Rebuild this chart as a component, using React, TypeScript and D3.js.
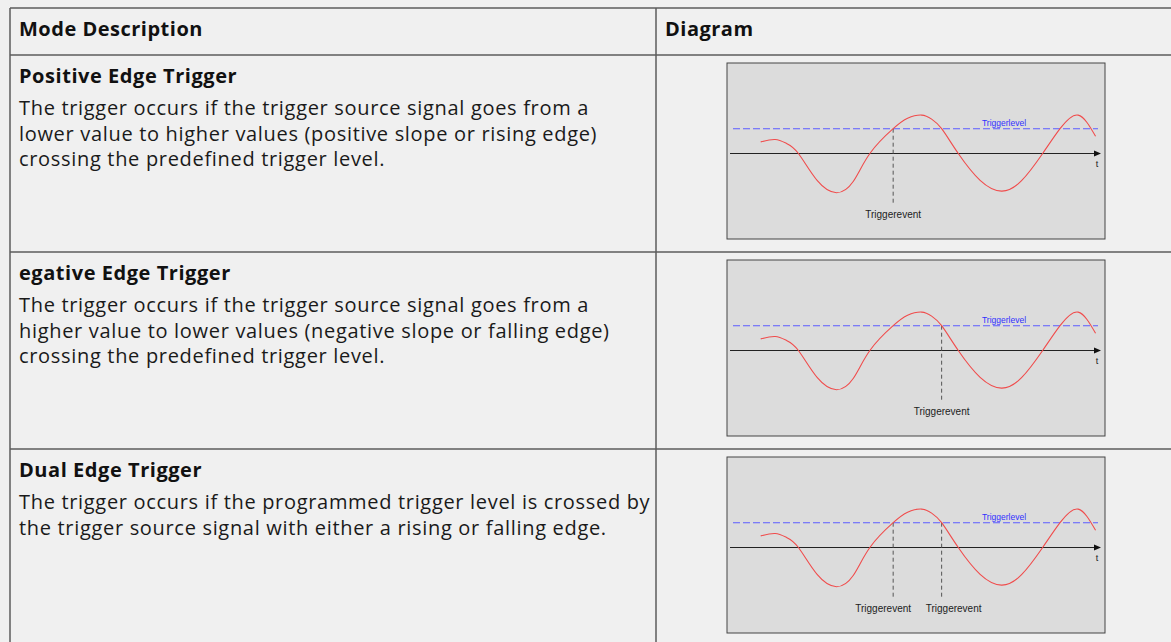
import { useRef, useEffect } from "react";
import * as d3 from "d3";

// table content
const headers = ["Mode Description", "Diagram"];
const modeTitles = ["Positive Edge Trigger", "egative Edge Trigger", "Dual Edge Trigger"];
const modeDescriptions = [
  [
    "The trigger occurs if the trigger source signal goes from a",
    "lower value to higher values (positive slope or rising edge)",
    "crossing the predefined trigger level.",
  ],
  [
    "The trigger occurs if the trigger source signal goes from a",
    "higher value to lower values (negative slope or falling edge)",
    "crossing the predefined trigger level.",
  ],
  [
    "The trigger occurs if the programmed trigger level is crossed by",
    "the trigger source signal with either a rising or falling edge.",
  ],
];

// signal (time 0..10, amplitude in arbitrary units)
const waveTime = [0.83, 1.22, 1.53, 1.85, 2.36, 2.88, 3.33, 3.78, 4.41, 4.8, 5.18, 5.45, 5.72, 6.17, 6.76, 7.34, 7.88, 8.45, 8.92, 9.41, 9.88];
const waveValue = [0.29, 0.35, 0.25, 0, -0.68, -0.98, -0.7, 0, 0.62, 0.88, 0.96, 0.86, 0.62, 0, -0.67, -0.94, -0.68, 0, 0.62, 0.96, 0.43];
const triggerLevel = 0.62;
const triggerEvents = [[4.41], [5.72], [4.41, 5.72]];
const levelLabel = "Triggerlevel";
const eventLabel = "Triggerevent";
const axisLabel = "t";

const W = 1171;
const H = 642;
const tableLeft = 10;
const tableTop = 8;
const colDivider = 656;
const headerH = 47;
const rowH = 197;
const font = "'Open Sans', sans-serif";

export default function App() {
  const ref = useRef<HTMLDivElement>(null);

  useEffect(() => {
    const root = d3.select(ref.current);
    root.selectAll("*").remove();
    const svg = root
      .append("svg")
      .attr("width", W)
      .attr("height", H)
      .style("position", "absolute")
      .style("left", 0)
      .style("top", 0);

    svg.append("rect").attr("width", W).attr("height", H).attr("fill", "#f0f0f0");

    // headers
    svg
      .selectAll("text.head")
      .data(headers)
      .enter()
      .append("text")
      .attr("class", "head")
      .attr("x", (d, i) => (i === 0 ? tableLeft + 9 : colDivider + 9))
      .attr("y", tableTop + 28)
      .attr("font-family", font)
      .attr("font-weight", 700)
      .attr("font-size", 20)
      .attr("letter-spacing", 0.5)
      .attr("fill", "#111")
      .text((d) => d);

    const wave = waveTime.map((t, i) => ({ t, v: waveValue[i] }));

    modeTitles.forEach((title, r) => {
      const rowTop = tableTop + headerH + r * rowH;
      const g = svg.append("g");

      g.append("text")
        .attr("x", tableLeft + 9)
        .attr("y", rowTop + 28)
        .attr("font-family", font)
        .attr("font-weight", 700)
        .attr("font-size", 20)
        .attr("letter-spacing", 0.55)
        .attr("fill", "#111")
        .text(title);

      g.selectAll("text.desc")
        .data(modeDescriptions[r])
        .enter()
        .append("text")
        .attr("class", "desc")
        .attr("x", tableLeft + 9)
        .attr("y", (d, i) => rowTop + 60 + i * 25.5)
        .attr("font-family", font)
        .attr("font-size", 20)
        .attr("letter-spacing", 0.68)
        .attr("fill", "#1a1a1a")
        .text((d) => d);

      // diagram box
      const bx = 727;
      const by = rowTop + 8;
      const bw = 378;
      const bh = 176;
      const dg = g.append("g").attr("transform", `translate(${bx},${by})`);
      dg.append("rect")
        .attr("x", 0)
        .attr("y", 0)
        .attr("width", bw)
        .attr("height", bh)
        .attr("fill", "#dcdcdc")
        .attr("stroke", "#444")
        .attr("stroke-width", 1);

      const x = d3.scaleLinear().domain([0, 10]).range([3, 373]);
      const y = d3.scaleLinear().domain([-1, 1]).range([130.5, 50.5]);

      // time axis with arrow
      dg.append("line")
        .attr("x1", x(0))
        .attr("x2", x(10) - 2)
        .attr("y1", y(0))
        .attr("y2", y(0))
        .attr("stroke", "#222")
        .attr("stroke-width", 1);
      dg.append("path")
        .attr("d", `M${x(10) - 6},${y(0) - 3}L${x(10) + 1},${y(0)}L${x(10) - 6},${y(0) + 3}Z`)
        .attr("fill", "#111");
      dg.append("text")
        .attr("x", x(10) - 3)
        .attr("y", y(0) + 13)
        .attr("text-anchor", "middle")
        .attr("font-family", "'Liberation Sans', sans-serif")
        .attr("font-size", 9)
        .attr("fill", "#222")
        .text(axisLabel);

      // trigger level
      dg.append("line")
        .attr("x1", 6)
        .attr("x2", 371)
        .attr("y1", y(triggerLevel))
        .attr("y2", y(triggerLevel))
        .attr("stroke", "#5c5cff")
        .attr("stroke-width", 1.1)
        .attr("stroke-dasharray", "7,3");
      dg.append("text")
        .attr("x", 277)
        .attr("y", y(triggerLevel) - 3)
        .attr("text-anchor", "middle")
        .attr("font-family", "'Liberation Sans', sans-serif")
        .attr("font-size", 8.5)
        .attr("fill", "#3030ff")
        .text(levelLabel);

      // trigger events
      const evs = triggerEvents[r];
      evs.forEach((t, k) => {
        dg.append("line")
          .attr("x1", x(t))
          .attr("x2", x(t))
          .attr("y1", y(triggerLevel))
          .attr("y2", y(triggerLevel) + 75)
          .attr("stroke", "#555")
          .attr("stroke-width", 1)
          .attr("stroke-dasharray", "4,3");
        const shift = evs.length > 1 ? (k === 0 ? -10 : 12) : 0;
        dg.append("text")
          .attr("x", x(t) + shift)
          .attr("y", y(triggerLevel) + 89)
          .attr("text-anchor", "middle")
          .attr("font-family", "'Liberation Sans', sans-serif")
          .attr("font-size", 10)
          .attr("fill", "#222")
          .text(eventLabel);
      });

      // signal
      const line = d3
        .line<{ t: number; v: number }>()
        .x((d) => x(d.t))
        .y((d) => y(d.v))
        .curve(d3.curveNatural);
      dg.append("path")
        .attr("d", line(wave))
        .attr("fill", "none")
        .attr("stroke", "#f04c4c")
        .attr("stroke-width", 1.1);
    });

    // table grid
    const gridColor = "#5c5c5c";
    const hLines = [tableTop, tableTop + headerH, tableTop + headerH + rowH, tableTop + headerH + 2 * rowH];
    svg
      .selectAll("line.h")
      .data(hLines)
      .enter()
      .append("line")
      .attr("x1", tableLeft)
      .attr("x2", W)
      .attr("y1", (d) => d)
      .attr("y2", (d) => d)
      .attr("stroke", gridColor)
      .attr("stroke-width", 1.5);
    svg
      .selectAll("line.v")
      .data([tableLeft, colDivider])
      .enter()
      .append("line")
      .attr("x1", (d) => d)
      .attr("x2", (d) => d)
      .attr("y1", tableTop)
      .attr("y2", H)
      .attr("stroke", gridColor)
      .attr("stroke-width", 1.5);
  }, []);

  return <div ref={ref}></div>;
}
